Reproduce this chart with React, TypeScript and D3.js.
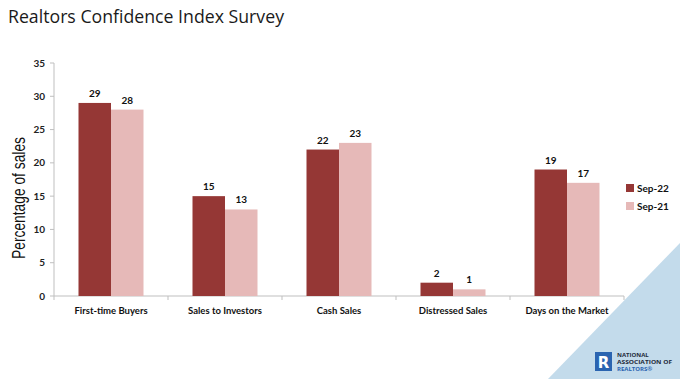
import React from "react";
import * as d3 from "d3";

const categories = ["First-time Buyers", "Sales to Investors", "Cash Sales", "Distressed Sales", "Days on the Market"];
const seriesNames = ["Sep-22", "Sep-21"];
const sep22 = [29, 15, 22, 2, 19];
const sep21 = [28, 13, 23, 1, 17];
const yTicks = [0, 5, 10, 15, 20, 25, 30, 35];
const colors = ["#953735", "#e6b9b8"];

export default function App() {
  const W = 680, H = 379;
  const x0 = 54, x1 = 624, yTop = 63, yBot = 296;
  const x = d3.scaleBand<string>().domain(categories).range([x0, x1]).paddingInner(0).paddingOuter(0);
  const y = d3.scaleLinear().domain([0, 35]).range([yBot, yTop]);
  const inner = d3.scaleBand<string>().domain(seriesNames).range([0, 65]);
  const groupOffset = (x.bandwidth() - 65) / 2;
  const series = [sep22, sep21];
  const font = "Lato, 'Open Sans', 'DejaVu Sans', sans-serif";
  const boundaries = d3.range(categories.length + 1).map((i) => x0 + i * x.bandwidth());

  return (
    <svg width={W} height={H} style={{ position: "absolute", left: 0, top: 0, background: "#fff" }} fontFamily={font}>
      <rect x={0} y={0} width={W} height={H} fill="#fff" />
      <text x={8} y={23} fontSize={19} fill="#1a1a1a" fontFamily="'Open Sans', sans-serif" textLength={276} lengthAdjust="spacingAndGlyphs">Realtors Confidence Index Survey</text>

      {/* y axis */}
      <line x1={x0} x2={x0} y1={yTop} y2={yBot} stroke="#bfbfbf" />
      {yTicks.map((t) => (
        <g key={t}>
          <line x1={x0 - 4} x2={x0} y1={y(t)} y2={y(t)} stroke="#bfbfbf" />
          <text x={45} y={y(t) + 3.5} fontSize={10} fontWeight="bold" textAnchor="end" fill="#222">{t}</text>
        </g>
      ))}
      <text transform={`translate(25,198) rotate(-90)`} fontSize={19} textAnchor="middle" fill="#111"
        fontFamily="'Liberation Sans', Arial, sans-serif" textLength={122} lengthAdjust="spacingAndGlyphs">Percentage of  sales</text>

      {/* x axis */}
      <line x1={x0} x2={x1} y1={yBot} y2={yBot} stroke="#bfbfbf" />
      {boundaries.map((b, i) => (
        <line key={i} x1={b} x2={b} y1={yBot} y2={yBot + 4} stroke="#bfbfbf" />
      ))}

      {categories.map((c, i) => (
        <g key={c}>
          {series.map((s, j) => {
            const bx = (x(c) as number) + groupOffset + (inner(seriesNames[j]) as number);
            return (
              <g key={j}>
                <rect x={bx} y={y(s[i])} width={inner.bandwidth()} height={yBot - y(s[i])} fill={colors[j]} />
                <text x={bx + inner.bandwidth() / 2} y={y(s[i]) - 6} fontSize={10} fontWeight="bold" textAnchor="middle" fill="#111">{s[i]}</text>
              </g>
            );
          })}
          <text x={(x(c) as number) + x.bandwidth() / 2} y={314} fontSize={9.5} fontWeight="bold" textAnchor="middle" fill="#111">{c}</text>
        </g>
      ))}

      {/* blue corner */}
      <polygon points="680,243 680,379 548,379" fill="#c3dbeb" />

      {/* legend */}
      {seriesNames.map((n, j) => (
        <g key={n}>
          <rect x={626} y={184 + j * 18} width={8} height={8} fill={colors[j]} />
          <text x={637} y={192 + j * 18} fontSize={10} fontWeight="bold" fill="#111">{n}</text>
        </g>
      ))}

      {/* logo */}
      <rect x={595} y={352} width={17} height={19} fill="#2a64b0" />
      <text x={603.5} y={367.5} fontSize={15} fontWeight="bold" textAnchor="middle" fill="#fff" fontFamily="'DejaVu Sans', sans-serif">R</text>
      <text x={617} y={357} fontSize={6} fontWeight="bold" fill="#1e2a3a" fontFamily="'Open Sans', sans-serif">NATIONAL</text>
      <text x={617} y={364} fontSize={6} fontWeight="bold" fill="#1e2a3a" fontFamily="'Open Sans', sans-serif" textLength={55} lengthAdjust="spacingAndGlyphs">ASSOCIATION OF</text>
      <text x={617} y={371} fontSize={6} fontWeight="bold" fill="#2a64b0" fontFamily="'Open Sans', sans-serif">REALTORS®</text>
    </svg>
  );
}
